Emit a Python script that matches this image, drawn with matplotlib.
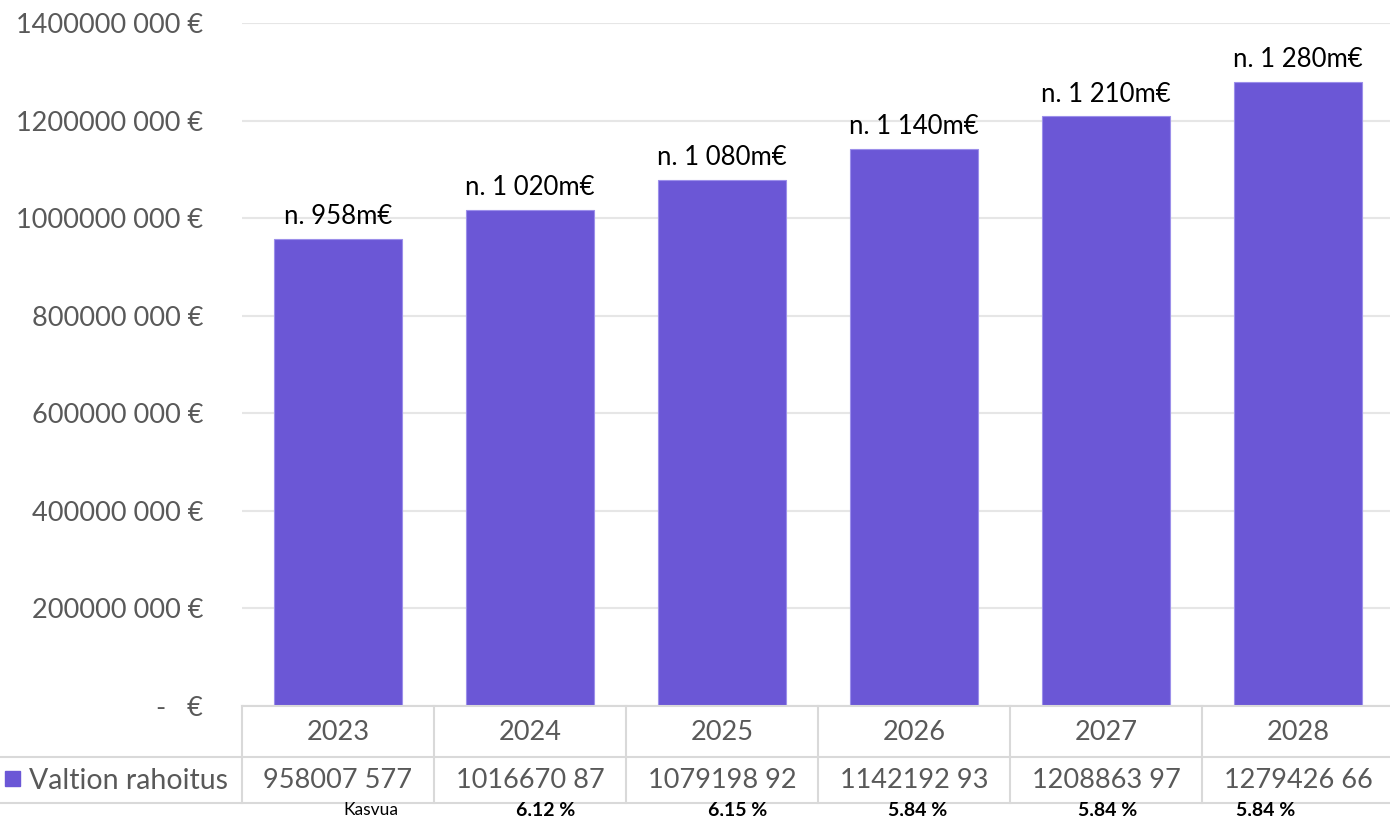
import numpy as np
import matplotlib
matplotlib.use("Agg")
from matplotlib import pyplot as plt
from matplotlib import transforms

# data
years = ['2023', '2024', '2025', '2026', '2027', '2028']
rahoitus = [958007577, 1016670870, 1079198920, 1142192930, 1208863970, 1279426660]
table_labels = ['958007 577', '1016670 87', '1079198 92', '1142192 93', '1208863 97', '1279426 66']
bar_labels = ['n. 958m€', 'n. 1 020m€', 'n. 1 080m€', 'n. 1 140m€', 'n. 1 210m€', 'n. 1 280m€']
kasvua = ['Kasvua', '6,12 %', '6,15 %', '5,84 %', '5,84 %', '5,84 %']
y_ticks = [0, 200e6, 400e6, 600e6, 800e6, 1000e6, 1200e6, 1400e6]
y_tick_labels = ['-   €', '200000 000 €', '400000 000 €', '600000 000 €', '800000 000 €',
                 '1000000 000 €', '1200000 000 €', '1400000 000 €']

plt.rcParams['font.family'] = ['Lato', 'DejaVu Sans']

W, H = 1390, 816
bar_color = '#6B57D6'
grid_color = '#E6E6E6'
line_color = '#D9D9D9'
text_gray = '#595959'

fig = plt.figure(figsize=(W / 100, H / 100), dpi=100)
# plot area in pixels
left, right, top, bottom = 242, 1394, 23, 706
ax = fig.add_axes([left / W, 1 - bottom / H, (right - left) / W, (bottom - top) / H])

x = np.arange(len(years))
ax.bar(x, rahoitus, width=0.667, color=bar_color, edgecolor='#9C8FEA', linewidth=0.8, zorder=3)
for i, v in enumerate(rahoitus):
    ax.annotate(bar_labels[i], (x[i], v), xytext=(0, 7), textcoords='offset points',
                ha='center', va='bottom', fontsize=18.5, color='black')

ax.set_xlim(-0.5, len(years) - 0.5)
ax.set_ylim(0, 1.4e9)
ax.set_yticks(y_ticks)
ax.set_yticklabels(y_tick_labels, fontsize=19.5, color=text_gray)
ax.tick_params(axis='y', length=0, pad=28)
ax.set_xticks([])
ax.grid(axis='y', color=grid_color, linewidth=1.5, zorder=0)
for s in ax.spines.values():
    s.set_visible(False)

# table under the chart
def fy(py):
    return 1 - py / H

tr = transforms.blended_transform_factory(ax.transData, fig.transFigure)
row1_top, row1_bot, row2_bot = 706, 757, 803
kw = dict(color=line_color, linewidth=1.5, clip_on=False)
fig.add_artist(plt.Line2D([left / W, 1], [fy(row1_top)] * 2, transform=fig.transFigure, **kw))
fig.add_artist(plt.Line2D([0, 1], [fy(row1_bot)] * 2, transform=fig.transFigure, **kw))
fig.add_artist(plt.Line2D([0, 1], [fy(row2_bot)] * 2, transform=fig.transFigure, **kw))
for b in np.arange(len(years) + 1) - 0.5:
    fig.add_artist(plt.Line2D([b, b], [fy(row1_top), fy(row2_bot)], transform=tr, **kw))

for i in range(len(years)):
    fig.text(x[i], fy((row1_top + row1_bot) / 2 + 1), years[i], transform=tr,
             ha='center', va='center', fontsize=19.5, color=text_gray)
    fig.text(x[i], fy((row1_bot + row2_bot) / 2 + 1), table_labels[i], transform=tr,
             ha='center', va='center', fontsize=19.5, color=text_gray)

# legend key in table
fig.patches.append(plt.Rectangle((5 / W, fy(786)), 15 / W, 15 / H, transform=fig.transFigure,
                                 color=bar_color))
fig.text(29 / W, fy((row1_bot + row2_bot) / 2 + 1), 'Valtion rahoitus', ha='left', va='center',
         fontsize=20.5, color=text_gray)

# growth row
kasvua_pos = [0.17, 1.08, 2.08, 3.02, 4.01, 4.83]
for i, t in enumerate(kasvua):
    fig.text(kasvua_pos[i], fy(810), t, transform=tr, ha='center', va='center',
             fontsize=12.5 if i == 0 else 14,
             color='black', fontweight='normal' if i == 0 else 'bold')

fig.savefig('out.png', dpi=100)
